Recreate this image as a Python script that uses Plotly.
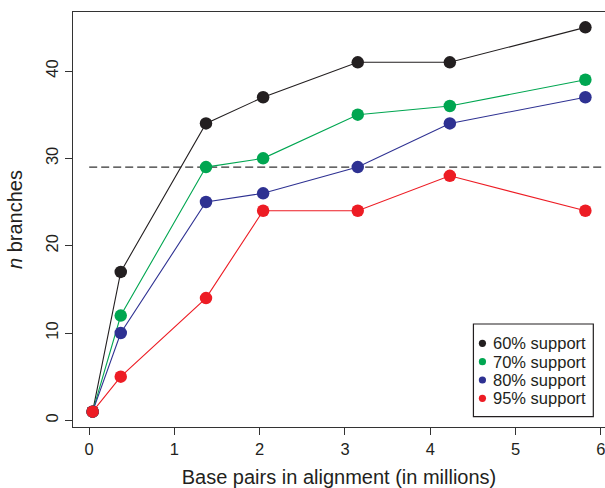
import plotly.graph_objects as go

# ---- data ----
bp_millions = [0.04, 0.37, 1.37, 2.04, 3.15, 4.23, 5.82]
support_60 = [1, 17, 34, 37, 41, 41, 45]
support_70 = [1, 12, 29, 30, 35, 36, 39]
support_80 = [1, 10, 25, 26, 29, 34, 37]
support_95 = [1, 5, 14, 24, 24, 28, 24]
series_names = ["60% support", "70% support", "80% support", "95% support"]
reference_level = 29
x_ticks = [0, 1, 2, 3, 4, 5, 6]
y_ticks = [0, 10, 20, 30, 40]

colors = ["#231f20", "#00a651", "#2e3192", "#ed1c24"]
series = [support_60, support_70, support_80, support_95]

W, H = 605, 488
# plot box on screen: left 72.5, right 605, top 12, bottom 427
ML, MT, MR = 72.5, 12, 0
MB = H - 427
x_range = [-0.19, 6.05]
y_range = [-0.76, 46.76]

fig = go.Figure()
for name, vals, col in zip(series_names, series, colors):
    fig.add_trace(go.Scatter(
        x=bp_millions, y=vals, mode="lines+markers", name=name,
        line=dict(color=col, width=1.1),
        marker=dict(color=col, size=12.5, line=dict(width=0)),
        showlegend=False, cliponaxis=False, hoverinfo="skip",
    ))

# dashed reference line
fig.add_shape(type="line", xref="x", yref="y", x0=0, x1=x_range[1],
              y0=reference_level, y1=reference_level,
              line=dict(color="#333333", width=1.1, dash="8px,4px"), layer="below")

# ---- custom legend (pixel -> paper helpers) ----
pw = W - ML - MR
ph = H - MT - MB
def px2x(px):
    return (px - ML) / pw
def py2y(py):
    return (H - MB - py) / ph

fig.add_shape(type="rect", xref="paper", yref="paper",
              x0=px2x(473.3), x1=px2x(593.3), y0=py2y(416.7), y1=py2y(324),
              line=dict(color="#231f20", width=1.2), fillcolor="white", layer="above")
row_y = [343.3, 361.7, 380.0, 398.3]
for name, col, ry in zip(series_names, colors, row_y):
    r = 3.6
    fig.add_shape(type="circle", xref="paper", yref="paper",
                  x0=px2x(482.3 - r), x1=px2x(482.3 + r),
                  y0=py2y(ry + r), y1=py2y(ry - r),
                  line=dict(width=0), fillcolor=col, layer="above")
    fig.add_annotation(text=name, xref="paper", yref="paper",
                       x=px2x(490.5), y=py2y(ry), xanchor="left", yanchor="middle",
                       showarrow=False, font=dict(size=16.5, color="#231f20"))

axis_common = dict(
    showgrid=False, zeroline=False, showline=True, linecolor="#333333", linewidth=1.3,
    ticks="outside", ticklen=7, tickwidth=1.1, tickcolor="#333333",
    tickfont=dict(size=16.5, color="#231f20"), automargin=False,
    ticklabeloverflow="allow",
)
fig.update_xaxes(range=x_range, tickvals=x_ticks, mirror=True,
                 title=dict(text="Base pairs in alignment (in millions)",
                            font=dict(size=20, color="#231f20"), standoff=14),
                 **axis_common)
fig.update_yaxes(range=y_range, tickvals=y_ticks, tickangle=-90, mirror=False,
                 title=dict(text="<i>n</i> branches",
                            font=dict(size=20, color="#231f20")),
                 **axis_common)

fig.update_layout(
    width=W, height=H,
    margin=dict(l=ML, r=MR, t=MT, b=MB),
    plot_bgcolor="white", paper_bgcolor="white",
    font=dict(family="Liberation Sans, Arial, sans-serif", color="#231f20"),
    hovermode=False,
)
fig.write_html("out.html",
               config={"displayModeBar": False},
               post_script="document.body.style.margin='0';document.body.style.overflow='hidden';")
